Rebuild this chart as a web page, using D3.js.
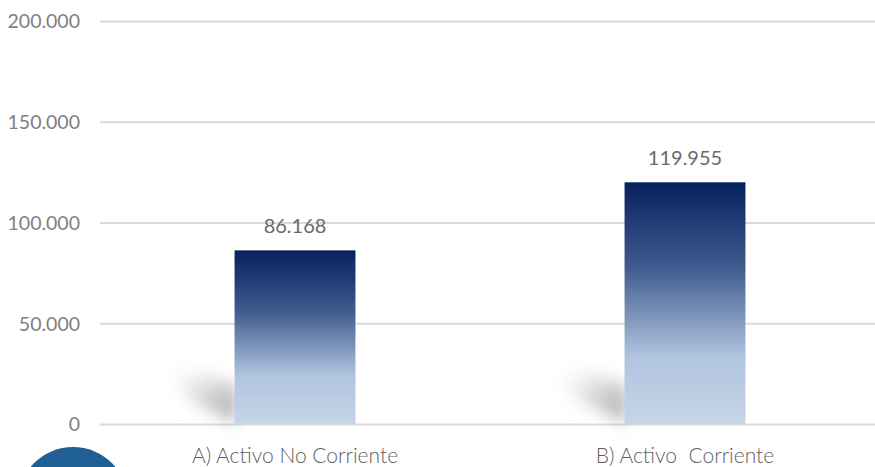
<!DOCTYPE html>
<html>
<head>
<meta charset="utf-8">
<script src="https://cdn.jsdelivr.net/npm/d3@7"></script>
<style>
  body { margin: 0; background: #fff; }
  svg { display: block; }
</style>
</head>
<body>
<div id="chart"></div>
<script>
// chart data
var categories = ["A) Activo No Corriente", "B) Activo  Corriente"];
var values = [86168, 119955];
var yTicks = [0, 50000, 100000, 150000, 200000];

var width = 875,
    height = 467;

var fmt = function(v) {
  return d3.format(",")(v).replace(/,/g, ".");
};

var svg = d3.select("#chart")
            .append("svg")
            .attr("width", width)
            .attr("height", height);

var defs = svg.append("defs");

var grad = defs.append("linearGradient")
               .attr("id", "barGrad")
               .attr("x1", 0).attr("y1", 0)
               .attr("x2", 0).attr("y2", 1);
grad.append("stop").attr("offset", "0%").attr("stop-color", "#07215e");
grad.append("stop").attr("offset", "35%").attr("stop-color", "#3f5b8e");
grad.append("stop").attr("offset", "72%").attr("stop-color", "#b0c4df");
grad.append("stop").attr("offset", "100%").attr("stop-color", "#c6d5e8");

// shadow fades out towards the upper left
var sgrad = defs.append("linearGradient")
                .attr("id", "shadowGrad")
                .attr("x1", 1).attr("y1", 0.8)
                .attr("x2", 0).attr("y2", 0.1);
sgrad.append("stop").attr("offset", "0%").attr("stop-color", "#8a8a8a").attr("stop-opacity", 0.75);
sgrad.append("stop").attr("offset", "50%").attr("stop-color", "#aaaaaa").attr("stop-opacity", 0.4);
sgrad.append("stop").attr("offset", "100%").attr("stop-color", "#cccccc").attr("stop-opacity", 0);

defs.append("filter")
    .attr("id", "blur")
    .attr("x", "-50%").attr("y", "-50%")
    .attr("width", "200%").attr("height", "200%")
    .append("feGaussianBlur")
    .attr("stdDeviation", 8);

var x = d3.scaleBand()
          .domain(categories)
          .range([100, 880])
          .paddingInner(0.69)
          .paddingOuter(0.345);

var y = d3.scaleLinear()
          .domain([0, 200000])
          .range([424, 21]);

// gridlines
svg.append("g")
   .selectAll("line")
   .data(yTicks)
   .enter()
   .append("line")
   .attr("x1", 100)
   .attr("x2", width)
   .attr("y1", function(d){ return y(d) + 0.5; })
   .attr("y2", function(d){ return y(d) + 0.5; })
   .attr("stroke", "#d9d9d9")
   .attr("stroke-width", 2);

// y axis labels
var yAxis = svg.append("g")
   .attr("transform", "translate(80,0)")
   .call(d3.axisLeft(y).tickValues(yTicks).tickSize(0).tickPadding(0).tickFormat(fmt));
yAxis.select(".domain").remove();
yAxis.selectAll("text")
     .attr("fill", "#808080")
     .attr("font-family", "Lato, sans-serif")
     .attr("font-size", "19.5px")
     .attr("dy", "0.35em");

// soft shadows cast to the left of each bar
svg.append("g")
   .selectAll("path")
   .data(categories)
   .enter()
   .append("path")
   .attr("d", function(d) {
     var l = x(d), b = y(0);
     return "M" + (l + 2) + "," + (b - 2) +
            "L" + (l + 2) + "," + (b - 40) +
            "L" + (l - 35) + "," + (b - 52) +
            "L" + (l - 70) + "," + (b - 48) +
            "L" + (l - 40) + "," + (b - 20) + "Z";
   })
   .attr("fill", "url(#shadowGrad)")
   .attr("filter", "url(#blur)");

// bars
svg.append("g")
   .selectAll("rect")
   .data(values)
   .enter()
   .append("rect")
   .attr("x", function(d, i){ return x(categories[i]); })
   .attr("y", function(d){ return y(d); })
   .attr("width", x.bandwidth())
   .attr("height", function(d){ return y(0) - y(d); })
   .attr("fill", "url(#barGrad)");

// value labels
svg.append("g")
   .selectAll("text")
   .data(values)
   .enter()
   .append("text")
   .attr("x", function(d, i){ return x(categories[i]) + x.bandwidth() / 2; })
   .attr("y", function(d){ return y(d) - 17; })
   .attr("text-anchor", "middle")
   .attr("fill", "#6a6a6a")
   .attr("font-family", "Lato, sans-serif")
   .attr("font-size", "20px")
   .text(fmt);

// category labels
svg.append("g")
   .selectAll("text")
   .data(categories)
   .enter()
   .append("text")
   .attr("x", function(d){ return x(d) + x.bandwidth() / 2; })
   .attr("y", 463)
   .attr("text-anchor", "middle")
   .attr("fill", "#5f5f5f")
   .attr("font-family", "Lato, sans-serif")
   .attr("font-size", "21px")
   .attr("font-weight", 300)
   .style("white-space", "pre")
   .attr("xml:space", "preserve")
   .text(function(d){ return d; });

// blue disc peeking in at the bottom left
svg.append("circle")
   .attr("cx", 73)
   .attr("cy", 502)
   .attr("r", 55)
   .attr("fill", "#1f5f96");
</script>
</body>
</html>
